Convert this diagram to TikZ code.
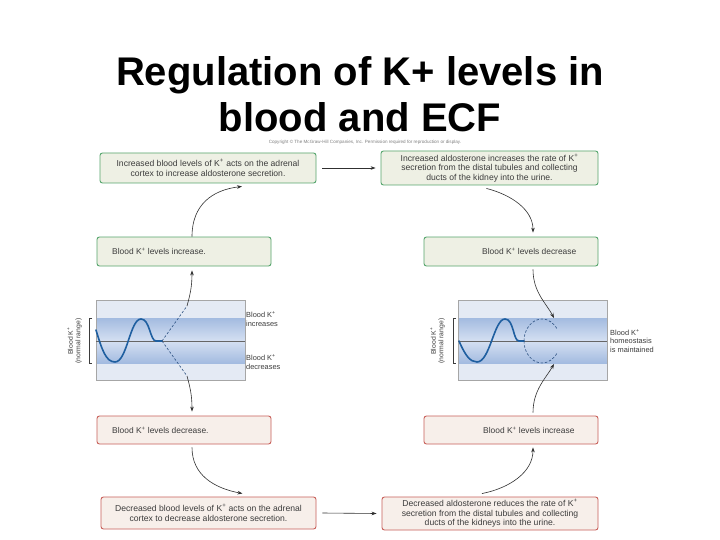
\documentclass[tikz,border=0pt]{standalone}
\usepackage{fontspec}
\setmainfont{Liberation Sans}
\usetikzlibrary{arrows.meta}
\definecolor{boxgreen}{HTML}{55A56C}
\definecolor{fillgreen}{HTML}{EEF0E4}
\definecolor{boxred}{HTML}{C8605A}
\definecolor{fillred}{HTML}{F7EFEA}
\definecolor{txt}{HTML}{3C3C3C}
\definecolor{arrc}{HTML}{303030}
\definecolor{graphbg}{HTML}{E4EAF4}
\definecolor{banddark}{HTML}{A3BBE0}
\definecolor{bandlight}{HTML}{D5E0F2}
\definecolor{wave}{HTML}{1F5FA0}
\definecolor{dashc}{HTML}{2A4F80}
\newcommand{\Kp}{K\textsuperscript{+}}
\tikzset{
  gbox/.style={draw=boxgreen, fill=fillgreen, rounded corners=2.5pt, line width=0.9pt, inner sep=0pt},
  rbox/.style={draw=boxred, fill=fillred, rounded corners=2.5pt, line width=0.9pt, inner sep=0pt},
  btext/.style={font=\fontsize{8.6}{9.6}\selectfont, text=txt, align=center},
  stext/.style={font=\fontsize{8.4}{9.6}\selectfont, text=txt, anchor=west, inner sep=0pt},
  glabel/.style={font=\fontsize{7.4}{8.2}\selectfont, text=txt, align=left, anchor=west, inner sep=0pt},
  ylabel/.style={font=\fontsize{6.8}{7.6}\selectfont, text=txt, align=center, rotate=90, inner sep=0pt},
  arr/.style={-{Stealth[length=5pt,width=3.6pt]}, draw=arrc, line width=0.6pt},
  dashln/.style={draw=dashc, line width=0.6pt, dash pattern=on 2.5pt off 1.8pt},
  waveln/.style={draw=wave, line width=1.6pt, line cap=round},
  frame/.style={draw=gray!70, line width=0.5pt},
}
\begin{document}
\begin{tikzpicture}[x=1pt,y=-1pt]
\useasboundingbox[fill=white] (0,0) rectangle (720,540);

% title
\node[font=\fontsize{40}{46}\selectfont\bfseries, anchor=base, inner sep=0pt] (title1) at (360,86) {Regulation of K+ levels in};
\node[font=\fontsize{40}{46}\selectfont\bfseries, anchor=base, inner sep=0pt] (title2) at (360,132) {blood and ECF};
\node[font=\fontsize{4.6}{5}\selectfont, text=gray, inner sep=0pt] (copy) at (365,142) {Copyright \textcopyright{} The McGraw-Hill Companies, Inc. Permission required for reproduction or display.};

% boxes
\node[gbox, minimum width=216pt, minimum height=30pt] (TL) at (208,168) {};
\node[btext] (TLt) at (TL.center) {Increased blood levels of \Kp{} acts on the adrenal\\cortex to increase aldosterone secretion.};
\node[gbox, minimum width=217pt, minimum height=34pt] (TR) at (489.5,168) {};
\node[btext] (TRt) at (TR.center) {Increased aldosterone increases the rate of \Kp\\secretion from the distal tubules and collecting\\ducts of the kidney into the urine.};

\node[gbox, minimum width=174pt, minimum height=29pt] (Linc) at (184,251.5) {};
\node[stext] (Linct) at (112,251.5) {Blood \Kp{} levels increase.};
\node[gbox, minimum width=174pt, minimum height=29pt] (Rdec) at (511,251.5) {};
\node[stext] (Rdect) at (482,251.5) {Blood \Kp{} levels decrease};

\node[rbox, minimum width=174pt, minimum height=28pt] (Ldec) at (184,430) {};
\node[stext] (Ldect) at (112,430) {Blood \Kp{} levels decrease.};
\node[rbox, minimum width=174pt, minimum height=28pt] (Rinc) at (511,430) {};
\node[stext] (Rinct) at (483,430) {Blood \Kp{} levels increase};

\node[rbox, minimum width=215pt, minimum height=32pt] (BL) at (208.5,513) {};
\node[btext] (BLt) at (BL.center) {Decreased blood levels of \Kp{} acts on the adrenal\\cortex to decrease aldosterone secretion.};
\node[rbox, minimum width=216pt, minimum height=33pt] (BR) at (490,513.5) {};
\node[btext] (BRt) at (BR.center) {Decreased aldosterone reduces the rate of \Kp\\secretion from the distal tubules and collecting\\ducts of the kidneys into the urine.};

% left graph
\fill[graphbg] (96,300) rectangle (245,380);
\shade[top color=banddark, bottom color=bandlight] (96,318) rectangle (245,341);
\shade[top color=bandlight, bottom color=banddark] (96,341) rectangle (245,363);
\draw[frame] (96,300) rectangle (245,380);
\draw[draw=gray!80!black, line width=0.8pt] (96,341) -- (245,341);
\draw[waveln] (96,330) .. controls (102,350) and (106,362) .. (115,362) .. controls (127,362) and (130,319) .. (141,319) .. controls (150,319) and (150,341) .. (156,341) -- (162,341);
\coordinate (Lsplit) at (162,341);
\coordinate (Lup) at (187,306);
\coordinate (Ldn) at (187,376);
\draw[dashln] (Lsplit) -- (Lup);
\draw[dashln] (Lsplit) -- (Ldn);
\draw[line width=0.4pt, draw=txt] (92,318) -- (89,318) -- (89,363) -- (92,363);
\node[ylabel] (Lyl) at (74.5,341) {Blood \Kp\\(normal range)};
\node[glabel] (Lgi) at (246,319) {Blood \Kp\\increases};
\node[glabel] (Lgd) at (246,362) {Blood \Kp\\decreases};

% right graph
\fill[graphbg] (458,300) rectangle (607,380);
\shade[top color=banddark, bottom color=bandlight] (458,318) rectangle (607,341);
\shade[top color=bandlight, bottom color=banddark] (458,341) rectangle (607,363);
\draw[frame] (458,300) rectangle (607,380);
\draw[draw=gray!80!black, line width=0.8pt] (458,341) -- (607,341);
\draw[waveln] (459,341) .. controls (465,355) and (470,362) .. (477,362) .. controls (490,362) and (494,319) .. (505,319) .. controls (514,319) and (513,341) .. (519,341) -- (524,341);
\draw[dashln] (524,341) arc[start angle=180, end angle=330, x radius=18, y radius=22];
\draw[dashln] (524,341) arc[start angle=180, end angle=30, x radius=18, y radius=22];
\coordinate (Ctop) at (554,318);
\coordinate (Cbot) at (554,364);
\draw[line width=0.4pt, draw=txt] (456,318) -- (453,318) -- (453,363) -- (456,363);
\node[ylabel] (Ryl) at (437.5,341) {Blood \Kp\\(normal range)};
\node[glabel] (Rgl) at (610,341) {Blood \Kp\\homeostasis\\is maintained};

% connectors
\draw[arr] ([xshift=8pt]Linc.north) .. controls (192,205) and (212,190) .. ([xshift=34pt,yshift=-3pt]TL.south);
\draw[arr] ([xshift=6pt]TL.east) -- ([xshift=-5pt]TR.west);
\draw[arr] ([xshift=-3pt,yshift=-3pt]TR.south) .. controls (512,195) and (533,210) .. ([xshift=22pt,yshift=4pt]Rdec.north);
\draw[arr] ([xshift=22pt,yshift=-3pt]Rdec.south) .. controls (533,292) and (546,303) .. (Ctop);
\draw[arr] ([xshift=22pt,yshift=3pt]Rinc.north) .. controls (533,390) and (546,378) .. (Cbot);
\draw[arr] ([xshift=-8pt,yshift=3pt]BR.north) .. controls (510,488) and (533,472) .. ([xshift=22pt,yshift=-3pt]Rinc.south);
\draw[arr] ([xshift=6pt]BL.east) -- ([xshift=-5pt]BR.west);
\draw[arr] ([xshift=8pt,yshift=-3pt]Ldec.south) .. controls (192,475) and (214,488) .. ([xshift=34pt,yshift=3pt]BL.north);
\draw[arr] (Lup) .. controls (190,295) and (192,287) .. ([xshift=8pt,yshift=-4pt]Linc.south);
\draw[arr] (Ldn) .. controls (190,387) and (192,395) .. ([xshift=8pt,yshift=4pt]Ldec.north);
\end{tikzpicture}
\end{document}
